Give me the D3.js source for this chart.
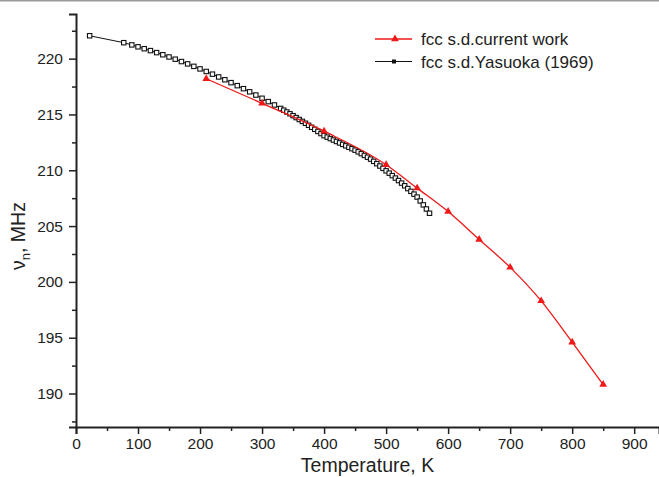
<!DOCTYPE html>
<html>
<head>
<meta charset="utf-8">
<script src="https://cdn.jsdelivr.net/npm/d3@7"></script>
<style>
  body { margin: 0; background: #fff; }
  #chart { width: 659px; height: 477px; }
  text { font-family: "Liberation Sans", Arial, sans-serif; fill: #222; }
</style>
</head>
<body>
<div id="chart"></div>
<script>
// current work (fcc s.d.)
const currentT = [210, 300, 400, 500, 550, 600, 650, 700, 750, 800, 850];
const currentNu = [218.2, 216.0, 213.5, 210.5, 208.4, 206.3, 203.8, 201.3, 198.3, 194.6, 190.8];

// Yasuoka (1969)
const yasuokaT = [
  22, 77, 90, 100, 110, 120, 130, 140, 150, 160, 170, 180, 190, 200, 210, 220,
  230, 240, 250, 260, 270, 280, 290, 300, 310, 320, 330, 335, 340, 345, 350,
  355, 360, 365, 370, 375, 380, 385, 390, 395, 400, 405, 410, 415, 420, 425,
  430, 435, 440, 445, 450, 455, 460, 465, 470, 475, 480, 485, 490, 495, 500,
  505, 510, 515, 520, 525, 530, 535, 540, 545, 550, 555, 560, 565, 570
];
const yasuokaNu = [
  222.05, 221.43, 221.23, 221.06, 220.89, 220.72, 220.54, 220.35, 220.15, 219.95,
  219.74, 219.53, 219.31, 219.08, 218.85, 218.61, 218.36, 218.11, 217.85, 217.58,
  217.31, 217.03, 216.74, 216.45, 216.15, 215.85, 215.54, 215.38, 215.22, 215.06,
  214.89, 214.72, 214.55, 214.38, 214.21, 214.03, 213.85, 213.67, 213.48, 213.29,
  213.10, 212.97, 212.84, 212.71, 212.58, 212.45, 212.32, 212.19, 212.06, 211.93,
  211.80, 211.65, 211.49, 211.33, 211.17, 211.00, 210.80, 210.59, 210.38, 210.17,
  209.95, 209.74, 209.52, 209.30, 209.08, 208.85, 208.61, 208.36, 208.11, 207.86,
  207.60, 207.25, 206.90, 206.53, 206.15
];

const xTicks = [0, 100, 200, 300, 400, 500, 600, 700, 800, 900];
const xMinor = [50, 150, 250, 350, 450, 550, 650, 750, 850];
const yTicks = [190, 195, 200, 205, 210, 215, 220];
const yMinor = [187.5, 192.5, 197.5, 202.5, 207.5, 212.5, 217.5, 222.5];

const seriesNames = ["fcc s.d.current work", "fcc s.d.Yasuoka (1969)"];

const width = 659, height = 477;
const margin = { top: 14, right: 0, bottom: 50, left: 76 };

const svg = d3.select("#chart").append("svg")
  .attr("width", width)
  .attr("height", height);

// thin grey border at the top of the picture
svg.append("line")
  .attr("x1", 0).attr("x2", width)
  .attr("y1", 0.75).attr("y2", 0.75)
  .attr("stroke", "#9a9a9a").attr("stroke-width", 1.5);

const x = d3.scaleLinear().domain([0, 940]).range([margin.left, width - margin.right]);
const y = d3.scaleLinear().domain([187, 224]).range([height - margin.bottom, margin.top]);

// X axis
const gx = svg.append("g").attr("transform", `translate(0,${height - margin.bottom})`);
gx.call(d3.axisBottom(x).tickValues(xTicks).tickSize(7).tickPadding(4).tickFormat(d3.format("d")));
gx.append("g").call(d3.axisBottom(x).tickValues(xMinor).tickSize(4).tickFormat(""))
  .select(".domain").remove();

// Y axis
const gy = svg.append("g").attr("transform", `translate(${margin.left},0)`);
gy.call(d3.axisLeft(y).tickValues(yTicks).tickSize(7).tickPadding(6).tickFormat(d3.format("d")));
gy.append("g").call(d3.axisLeft(y).tickValues(yMinor).tickSize(4).tickFormat(""))
  .select(".domain").remove();

svg.selectAll(".domain").attr("stroke", "#222").attr("stroke-width", 2);
svg.selectAll(".tick line").attr("stroke", "#222").attr("stroke-width", 1.5);
svg.selectAll(".tick text").style("font-size", "15.5px").attr("fill", "#222");

// axis titles
svg.append("text")
  .attr("x", x(470)).attr("y", 472)
  .attr("text-anchor", "middle")
  .style("font-size", "19.5px")
  .text("Temperature, K");

const yl = svg.append("text")
  .attr("transform", "translate(25,236) rotate(-90)")
  .attr("text-anchor", "middle")
  .style("font-size", "19.5px");
yl.append("tspan").text("ν");
yl.append("tspan").attr("dy", 5).style("font-size", "13px").text("n");
yl.append("tspan").attr("dy", -5).text(", MHz");

// Yasuoka line + markers
const black = yasuokaT.map((t, i) => [t, yasuokaNu[i]]);
svg.append("path")
  .datum(black)
  .attr("fill", "none")
  .attr("stroke", "#111")
  .attr("stroke-width", 1)
  .attr("d", d3.line().x(d => x(d[0])).y(d => y(d[1])));

svg.selectAll(".sq")
  .data(black)
  .enter().append("rect")
  .attr("class", "sq")
  .attr("x", d => x(d[0]) - 2.2)
  .attr("y", d => y(d[1]) - 2.2)
  .attr("width", 4.4)
  .attr("height", 4.4)
  .attr("fill", "#fff")
  .attr("stroke", "#111")
  .attr("stroke-width", 1.1);

// current work line + triangles
const red = currentT.map((t, i) => [t, currentNu[i]]);
svg.append("path")
  .datum(red)
  .attr("fill", "none")
  .attr("stroke", "#f01818")
  .attr("stroke-width", 1.3)
  .attr("d", d3.line().curve(d3.curveMonotoneX).x(d => x(d[0])).y(d => y(d[1])));

const tri = d3.symbol().type(d3.symbolTriangle).size(26);
svg.selectAll(".tri")
  .data(red)
  .enter().append("path")
  .attr("class", "tri")
  .attr("transform", d => `translate(${x(d[0])},${y(d[1])})`)
  .attr("d", tri)
  .attr("fill", "#f01818");

// legend
const legend = svg.append("g").attr("transform", "translate(375,39)");
seriesNames.forEach((name, i) => {
  const g = legend.append("g").attr("transform", `translate(0,${i * 22.5})`);
  g.append("line")
    .attr("x1", 0).attr("x2", 37)
    .attr("stroke", i === 0 ? "#f01818" : "#111")
    .attr("stroke-width", i === 0 ? 1.3 : 1);
  if (i === 0) {
    g.append("path").attr("transform", "translate(20,0)").attr("d", tri).attr("fill", "#f01818");
  } else {
    g.append("rect").attr("x", 17).attr("y", -2).attr("width", 4).attr("height", 4).attr("fill", "#111");
  }
  g.append("text")
    .attr("x", 46).attr("y", 6)
    .style("font-size", "17px")
    .text(name);
});
</script>
</body>
</html>
